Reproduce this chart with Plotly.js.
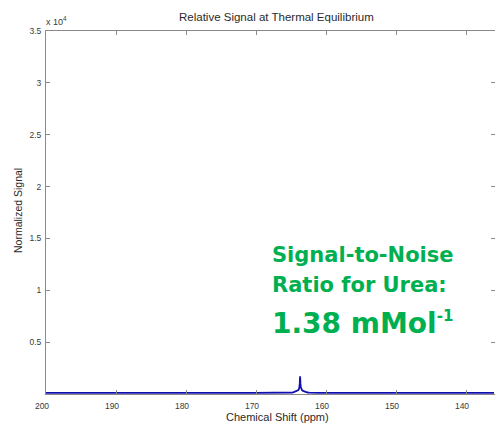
<!DOCTYPE html>
<html><head><meta charset="utf-8">
<script src="https://cdn.plot.ly/plotly-3.0.1.min.js"></script>
<style>html,body{margin:0;padding:0;background:#fff;overflow:hidden}#chart{width:495px;height:424px;}</style>
</head><body><div id="chart"></div>
<script>
// Data
const chemicalShift = [200,198,196,194,192,190,188,186,184,182,180,178,176,174,172,170,168,166.5,165.5,165,164.8,164.6,164.4,164.2,164.0,163.9,163.8,163.75,163.7,163.65,163.6,163.5,163.4,163.2,163.0,162.8,162.6,162.4,162,161,160,158,156,154,152,150,148,146,144,142,140,138,136];
const normalizedSignal = [100,95,105,100,110,95,100,105,95,100,105,100,95,105,100,105,100,100,105,125,145,175,215,275,360,440,650,1000,1700,1000,650,440,360,275,215,175,145,125,105,100,100,105,95,100,105,100,95,100,105,100,95,100,100];
const xTickValues = [200,190,180,170,160,150,140];
const yTickValues = [5000,10000,15000,20000,25000,30000,35000];
const yTickLabels = ['0.5','1','1.5','2','2.5','3','3.5'];
const chartTitle = 'Relative Signal at Thermal Equilibrium';
const xTitle = 'Chemical Shift (ppm)';
const yTitle = 'Normalized Signal';
const snrLine1 = 'Signal-to-Noise';
const snrLine2 = 'Ratio for Urea:';
const snrValue = '1.38 mMol<sup><span style="font-size:15px">-1</span></sup>';

const W = 495, H = 424, L = 46, R = 0, T = 31, B = 30;
const pw = W - L - R, ph = H - T - B;
const px = x => (x - L) / pw;
const py = y => (H - B - y) / ph;
const axisGray = '#8a8a8a';
const labelGray = '#3a3a3a';
const green = 'rgb(0,176,80)';
const sans = 'Liberation Sans, Arial, Helvetica, sans-serif';
const bold = 'DejaVu Sans, sans-serif';

const trace = {
  x: chemicalShift, y: normalizedSignal, type: 'scatter', mode: 'lines',
  line: {color: '#1010b0', width: 1.8}, hoverinfo: 'skip'
};

const layout = {
  width: W, height: H,
  margin: {l: L, r: R, t: T, b: B, pad: 0},
  paper_bgcolor: '#fff', plot_bgcolor: '#fff',
  showlegend: false,
  xaxis: {
    range: [200, 200 - pw / 7], tickvals: xTickValues,
    showgrid: false, zeroline: false, showline: true, mirror: 'ticks',
    linecolor: axisGray, linewidth: 1, ticks: 'inside', ticklen: 4, tickcolor: axisGray,
    tickfont: {family: sans, size: 8.5, color: labelGray}, ticklabelshift: 4, ticklabelstandoff: 4
  },
  yaxis: {
    range: [0, 35000], tickvals: yTickValues, ticktext: yTickLabels,
    showgrid: false, zeroline: false, showline: true, mirror: 'ticks',
    linecolor: axisGray, linewidth: 1, ticks: 'inside', ticklen: 4, tickcolor: axisGray,
    tickfont: {family: sans, size: 8.5, color: labelGray}, ticklabelstandoff: 2
  },
  annotations: [
    {text: chartTitle, xref: 'paper', yref: 'paper', x: px(276), y: py(17), xanchor: 'center', yanchor: 'middle', showarrow: false, font: {family: sans, size: 11.5, color: '#2a2a2a'}},
    {text: xTitle, xref: 'paper', yref: 'paper', x: px(277), y: py(417), xanchor: 'center', yanchor: 'middle', showarrow: false, font: {family: sans, size: 11, color: '#2a2a2a'}},
    {text: yTitle, xref: 'paper', yref: 'paper', x: px(18), y: py(211), xanchor: 'center', yanchor: 'middle', textangle: -90, showarrow: false, font: {family: sans, size: 10.5, color: '#2a2a2a'}},
    {text: 'x 10<sup>4</sup>', xref: 'paper', yref: 'paper', x: px(44), y: py(21), xanchor: 'left', yanchor: 'middle', showarrow: false, font: {family: sans, size: 9, color: labelGray}},
    {text: snrLine1, xref: 'paper', yref: 'paper', x: px(270), y: py(255), xanchor: 'left', yanchor: 'middle', showarrow: false, font: {family: bold, size: 21, color: green, weight: 700}},
    {text: snrLine2, xref: 'paper', yref: 'paper', x: px(270), y: py(285), xanchor: 'left', yanchor: 'middle', showarrow: false, font: {family: bold, size: 21, color: green, weight: 700}},
    {text: snrValue, xref: 'paper', yref: 'paper', x: px(270), y: py(323), xanchor: 'left', yanchor: 'middle', showarrow: false, font: {family: bold, size: 28, color: green, weight: 700}}
  ]
};

Plotly.newPlot('chart', [trace], layout, {staticPlot: true, displayModeBar: false});
</script>
</body></html>
